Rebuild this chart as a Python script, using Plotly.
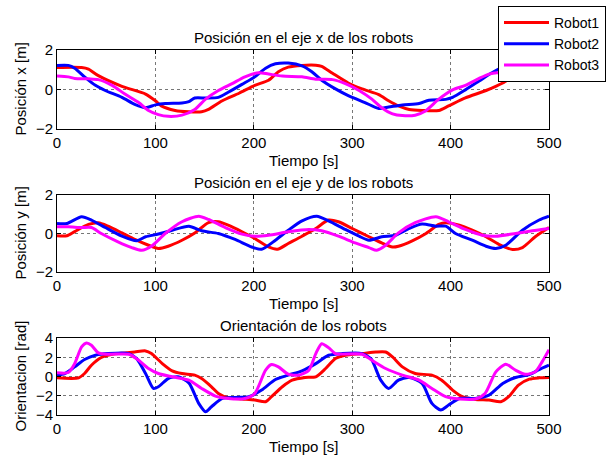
import plotly.graph_objects as go

# ---------------- data ----------------
# Plot 1: x position
x_t_r1 = [0, 25, 32, 42, 66, 90, 100, 106, 120, 134, 147, 154, 168, 185, 201, 215, 225, 235, 249, 263, 269, 280, 296, 310, 327, 337, 347, 358, 371, 388, 398, 415, 436, 453, 463, 472, 482, 492, 500]
x_v_r1 = [1.11, 1.11, 1.03, 0.70, 0.16, -0.23, -0.57, -0.83, -1.06, -1.13, -1.13, -1.01, -0.57, -0.19, 0.21, 0.47, 0.90, 1.13, 1.22, 1.23, 1.17, 0.82, 0.33, 0.03, -0.26, -0.57, -0.83, -1.01, -1.06, -1.06, -0.83, -0.43, -0.05, 0.33, 0.64, 0.90, 1.08, 1.13, 1.14]
x_t_r2 = [0, 11.5, 18, 28, 39, 49, 66, 79, 90, 100, 110, 127, 134, 140, 151, 164, 174, 188, 201, 212, 222, 235, 249, 259, 269, 283, 296, 313, 327, 337, 351, 368, 378, 395, 402, 415, 429, 442, 455, 468, 482, 500]
x_v_r2 = [1.22, 1.22, 1.08, 0.64, 0.21, -0.05, -0.40, -0.75, -0.92, -0.78, -0.71, -0.68, -0.61, -0.43, -0.43, -0.40, -0.14, 0.26, 0.64, 1.08, 1.30, 1.34, 1.20, 0.90, 0.47, 0.03, -0.31, -0.66, -0.96, -0.89, -0.78, -0.71, -0.54, -0.50, -0.40, -0.02, 0.43, 0.85, 1.15, 1.30, 1.28, 1.10]
x_t_r3 = [0, 11.5, 18, 32, 42, 56, 69, 83, 93, 103, 113, 127, 140, 151, 164, 178, 191, 205, 215, 229, 249, 263, 280, 293, 307, 320, 330, 341, 351, 364, 374, 388, 402, 415, 429, 439, 447, 456, 466, 486, 500]
x_v_r3 = [0.68, 0.64, 0.56, 0.54, 0.50, 0.21, -0.23, -0.66, -1.06, -1.27, -1.36, -1.30, -1.01, -0.49, -0.05, 0.30, 0.64, 0.85, 0.78, 0.68, 0.64, 0.52, 0.50, 0.30, -0.05, -0.49, -0.92, -1.23, -1.32, -1.30, -1.10, -0.49, -0.02, 0.21, 0.56, 0.78, 0.85, 0.80, 0.70, 0.64, 0.50]

# Plot 2: y position
y_t_r1 = [0, 10, 18, 32, 42, 52, 66, 79, 93, 103, 113, 127, 140, 154, 164, 174, 188, 201, 215, 224, 235, 249, 263, 276, 286, 300, 317, 330, 341, 347, 361, 375, 388, 395, 409, 422, 436, 449, 463, 473, 486, 500]
y_v_r1 = [-0.12, -0.12, 0.10, 0.47, 0.56, 0.38, 0.03, -0.31, -0.61, -0.78, -0.66, -0.35, 0.03, 0.57, 0.61, 0.43, 0.09, -0.26, -0.70, -0.82, -0.52, -0.14, 0.26, 0.70, 0.61, 0.26, -0.17, -0.49, -0.70, -0.66, -0.38, 0.00, 0.47, 0.56, 0.43, 0.17, -0.17, -0.56, -0.83, -0.73, -0.17, 0.31]
y_t_r2 = [0, 10, 25, 35, 49, 66, 81, 90, 103, 117, 134, 147, 164, 181, 198, 208, 222, 235, 249, 264, 276, 293, 307, 317, 330, 344, 358, 371, 385, 395, 405, 422, 436, 446, 456, 473, 490, 500]
y_v_r2 = [0.52, 0.52, 0.87, 0.70, 0.31, -0.14, -0.38, -0.17, -0.03, 0.17, 0.38, 0.14, 0.00, -0.31, -0.70, -0.82, -0.35, 0.17, 0.66, 0.90, 0.66, 0.21, -0.14, -0.35, -0.17, -0.09, 0.26, 0.49, 0.38, 0.38, 0.00, -0.35, -0.66, -0.78, -0.61, 0.17, 0.70, 0.90]
y_t_r3 = [0, 11.5, 25, 35, 45, 62, 76, 86, 96, 110, 127, 144, 154, 171, 188, 201, 215, 235, 256, 269, 286, 303, 317, 325, 334, 347, 364, 385, 398, 415, 432, 446, 466, 483, 500]
y_v_r3 = [0.35, 0.35, 0.31, 0.31, 0.00, -0.43, -0.73, -0.87, -0.66, 0.00, 0.61, 0.90, 0.73, 0.31, -0.03, -0.14, -0.09, 0.09, 0.21, 0.14, -0.14, -0.49, -0.73, -0.87, -0.61, 0.03, 0.56, 0.87, 0.61, 0.21, -0.09, -0.14, 0.00, 0.14, 0.26]

# Plot 3: orientation
o_t_r1 = [0, 22, 28, 35, 45, 56, 69, 79, 90, 96, 107, 117, 127, 140, 147, 157, 164, 174, 188, 201, 212, 218, 229, 239, 252, 263, 273, 283, 293, 310, 324, 334, 341, 351, 364, 381, 391, 402, 412, 425, 439, 451, 459, 469, 480, 490, 500]
o_v_r1 = [-0.14, -0.14, 0.31, 1.17, 1.97, 2.31, 2.45, 2.55, 2.66, 2.38, 1.34, 0.59, 0.31, 0.14, -0.21, -1.07, -1.76, -2.21, -2.34, -2.45, -2.62, -2.10, -1.07, -0.38, -0.10, -0.03, 0.83, 1.86, 2.21, 2.38, 2.55, 2.55, 2.03, 1.00, 0.31, 0.14, -0.38, -1.41, -2.10, -2.38, -2.45, -2.62, -2.10, -0.90, -0.28, -0.14, -0.10]
o_t_r2 = [0, 8, 18, 28, 39, 52, 73, 81, 90, 98, 103, 113, 123, 134, 144, 151, 157, 168, 181, 195, 208, 222, 235, 249, 263, 276, 290, 310, 319, 329, 337, 347, 358, 371, 381, 390, 398, 409, 425, 439, 453, 466, 480, 490, 500]
o_v_r2 = [0.14, 0.31, 1.00, 1.76, 2.21, 2.38, 2.38, 1.86, 0.31, -1.24, -1.07, -0.21, -0.03, -0.66, -2.79, -3.66, -3.14, -2.28, -2.17, -2.10, -1.41, -0.31, 0.14, 0.59, 1.34, 2.21, 2.38, 2.38, 1.86, -0.38, -1.24, -0.38, -0.10, -0.72, -2.79, -3.48, -2.97, -2.28, -2.28, -1.93, -0.72, -0.10, 0.21, 0.72, 1.17]
o_t_r3 = [0, 11.5, 18, 25, 30, 35, 42, 52, 73, 83, 93, 103, 117, 134, 147, 161, 174, 191, 201, 212, 218, 225, 235, 246, 256, 263, 269, 276, 283, 310, 320, 334, 351, 368, 381, 395, 409, 425, 435, 446, 456, 466, 476, 486, 493, 500]
o_v_r3 = [0.38, 0.41, 1.34, 3.07, 3.48, 3.24, 2.45, 2.31, 2.31, 1.69, 0.83, 0.31, -0.03, -0.38, -1.24, -2.03, -2.28, -2.28, -1.76, 0.66, 1.24, 1.00, 0.24, 0.14, 0.66, 2.38, 3.41, 3.00, 2.38, 2.31, 1.69, 0.83, 0.14, -0.38, -1.24, -2.10, -2.34, -2.34, -1.76, 0.48, 1.28, 0.66, 0.24, 0.48, 1.52, 2.79]

names = ["Robot1", "Robot2", "Robot3"]
colors = ["#ff0000", "#0000ff", "#ff00ff"]
titles = ["Posición en el eje x de los robots", "Posición en el eje y de los robots", "Orientación de los robots"]
ytitles = ["Posición x [m]", "Posición y [m]", "Orientacion [rad]"]
xtitle = "Tiempo [s]"
xticks = [0, 100, 200, 300, 400, 500]
yticks = [[-2, 0, 2], [-2, 0, 2], [-4, -2, 0, 2, 4]]
yranges = [[-2, 2], [-2, 2], [-4, 4]]

series = [
    [(x_t_r1, x_v_r1), (x_t_r2, x_v_r2), (x_t_r3, x_v_r3)],
    [(y_t_r1, y_v_r1), (y_t_r2, y_v_r2), (y_t_r3, y_v_r3)],
    [(o_t_r1, o_v_r1), (o_t_r2, o_v_r2), (o_t_r3, o_v_r3)],
]

# ---------------- layout (pixel geometry) ----------------
W, H = 610, 457
FONT = "Liberation Sans, Arial, Helvetica, sans-serif"
x_left, x_right = 57, 549
rows_px = [(50, 129), (195, 272), (338, 415)]


def py(p):
    return 1 - p / H


fig = go.Figure()
for i in range(3):
    ax = "" if i == 0 else str(i + 1)
    for j in range(3):
        t, v = series[i][j]
        fig.add_trace(go.Scatter(
            x=t, y=v, mode="lines", name=names[j],
            line=dict(color=colors[j], width=3, shape="spline", smoothing=0.7),
            xaxis="x" + ax, yaxis="y" + ax, showlegend=(i == 0),
        ))

layout = dict(
    width=W, height=H, margin=dict(l=0, r=0, t=0, b=0, pad=0, autoexpand=False),
    paper_bgcolor="white", plot_bgcolor="white",
    font=dict(family=FONT, size=15, color="black"),
    legend=dict(x=606 / W, xanchor="right", y=py(6), yanchor="top",
                bgcolor="white", bordercolor="black", borderwidth=1,
                font=dict(size=14), tracegroupgap=0, itemwidth=45),
    annotations=[],
)

for i in range(3):
    top, bot = rows_px[i]
    sx = "" if i == 0 else str(i + 1)
    common = dict(ticks="inside", ticklen=4, tickcolor="black", showline=True,
                  linecolor="black", linewidth=1, mirror="ticks", showgrid=True,
                  gridcolor="#777", griddash="dot", gridwidth=1, zeroline=False,
                  tickfont=dict(size=15), automargin=False)
    layout["xaxis" + sx] = dict(domain=[x_left / W, x_right / W], range=[0, 500],
                                tickvals=xticks, anchor="y" + sx, **common)
    layout["yaxis" + sx] = dict(domain=[py(bot), py(top)], range=yranges[i],
                                tickvals=yticks[i], anchor="x" + sx, **common)
    cx = (x_left + x_right) / 2 / W
    layout["annotations"].append(dict(
        text=titles[i], x=cx, y=py(top - 13), xref="paper", yref="paper",
        showarrow=False, xanchor="center", yanchor="middle", font=dict(size=15)))
    layout["annotations"].append(dict(
        text=xtitle, x=cx, y=py(bot + 31), xref="paper", yref="paper",
        showarrow=False, xanchor="center", yanchor="middle", font=dict(size=15)))
    layout["annotations"].append(dict(
        text=ytitles[i], x=20 / W, y=py((top + bot) / 2), xref="paper", yref="paper",
        showarrow=False, xanchor="center", yanchor="middle", textangle=-90,
        font=dict(size=15)))

fig.update_layout(**layout)
post = "document.body.style.margin='0';document.body.style.padding='0';"
fig.write_html("out.html", post_script=post, config={"displayModeBar": False, "staticPlot": True})
